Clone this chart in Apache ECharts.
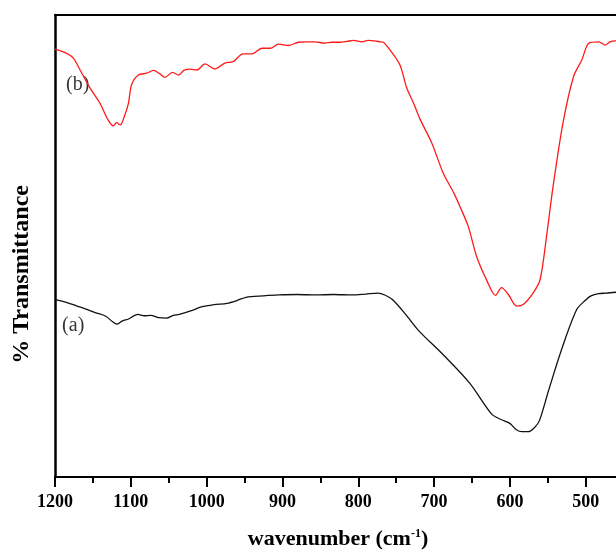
<!DOCTYPE html>
<html><head><meta charset="utf-8">
<script src="https://cdn.jsdelivr.net/npm/echarts@6/dist/echarts.min.js"></script>
<style>html,body{margin:0;padding:0;background:#fff;overflow:hidden}#c{width:616px;height:552px}</style>
</head><body><div id="c"></div>
<script>
// wavenumber (cm-1), transmittance (arbitrary units)
const wnB = [1200,1186,1176,1165,1153,1141,1130,1123,1119,1114,1108,1103,1099,1090,1079,1070,1062,1055,1045,1037,1030,1022,1013,1002,989,976,965,952,940,927,916,905,892,879,868,857,844,835,824,815,806,795,787,779,771,767,758,745,736,727,718,703,688,674,666,655,644,630,619,611,602,591,582,569,560,551,543,530,516,505,496,483,474,468,459];
const tB  = [92.6,91.8,90.7,87.5,84.0,81.0,77.3,76.0,76.7,76.2,78.3,81.0,84.9,87.0,87.4,88.0,87.3,86.5,87.6,87.0,88.0,88.3,88.1,89.4,88.3,89.6,89.9,91.6,91.6,92.8,92.8,93.7,93.4,94.1,94.2,94.2,93.9,94.1,94.1,94.3,94.5,94.2,94.5,94.4,94.2,94.1,92.4,89.2,84.2,80.9,77.3,72.3,65.8,61.5,58.6,54.3,47.8,42.4,39.3,41.0,39.5,37.0,37.4,39.9,42.8,52.9,62.9,76.6,86.7,90.3,93.9,94.2,93.5,94.2,94.4];
const wnA = [1200,1185,1171,1160,1147,1133,1124,1118,1111,1103,1091,1082,1074,1063,1053,1044,1036,1020,1007,990,973,960,948,925,905,880,856,832,808,790,774,765,755,738,721,687,653,624,611,600,592,584,576,568,561,549,532,512,500,493,483,473,459];
const tA  = [38.4,37.8,37.0,36.4,35.6,34.8,33.6,33.1,33.8,34.2,35.2,34.9,35.0,34.5,34.4,35.0,35.2,36.0,36.8,37.3,37.6,38.2,38.9,39.2,39.4,39.5,39.4,39.5,39.4,39.6,39.8,39.4,38.4,35.3,31.8,26.3,20.3,13.6,12.4,11.6,10.3,9.8,9.8,10.6,12.2,18.7,27.5,36.2,38.3,39.2,39.7,39.8,40.0];
const xTicks = [1200,1100,1000,900,800,700,600,500];
const curveLabels = [{text:'(b)', wn:1170, t:85.0},{text:'(a)', wn:1176, t:32.8}];

const font = 'Liberation Serif, Times New Roman, serif';
const chart = echarts.init(document.getElementById('c'));
chart.setOption({
  animation:false,
  grid:{left:55, right:-45.5, top:15, bottom:75, outerBoundsMode:'none', containLabel:false},
  xAxis:[{
    type:'value', inverse:true, min:400, max:1200, interval:100,
    axisLine:{lineStyle:{color:'#000', width:2}},
    axisTick:{inside:false, length:10, lineStyle:{color:'#000', width:2}},
    minorTick:{show:true, splitNumber:2, length:6, lineStyle:{color:'#000', width:2}},
    splitLine:{show:false},
    axisLabel:{margin:16, color:'#000', fontFamily:font, fontWeight:'bold', fontSize:18,
      formatter:v=> xTicks.includes(v)? String(v) : ''}
  },{
    type:'value', position:'top', inverse:true, min:400, max:1200,
    axisLine:{show:true, lineStyle:{color:'#000', width:2}},
    axisTick:{show:false}, axisLabel:{show:false}, splitLine:{show:false}
  }],
  yAxis:{type:'value', min:0, max:100,
    axisLine:{show:true, lineStyle:{color:'#000', width:2.5}},
    axisTick:{show:false}, axisLabel:{show:false}, splitLine:{show:false}},
  series:[
    {type:'line', data:wnB.map((w,i)=>[w,tB[i]]), showSymbol:false, smooth:0.3,
     lineStyle:{color:'#ff1a1a', width:1.3}, itemStyle:{color:'#ff1a1a'}},
    {type:'line', data:wnA.map((w,i)=>[w,tA[i]]), showSymbol:false, smooth:0.3,
     lineStyle:{color:'#111', width:1.3}, itemStyle:{color:'#111'}},
    {type:'scatter', data:curveLabels.map(l=>({value:[l.wn,l.t], name:l.text})), symbolSize:0,
     label:{show:true, position:'inside', formatter:p=>p.name, color:'#000', textBorderWidth:0,
            fontFamily:font, fontSize:20}}
  ],
  graphic:[
    {type:'text', left:10, top:185, rotation:Math.PI/2,
     style:{text:'% Transmittance', fontFamily:font, fontWeight:'bold', fontSize:24, fill:'#000'}},
    {type:'text', x:338, y:528,
     style:{text:'{n|wavenumber (cm}{s|-1}{n|)}', align:'center', verticalAlign:'top',
       rich:{n:{fontFamily:font,fontWeight:'bold',fontSize:22,fill:'#000'},
             s:{fontFamily:font,fontWeight:'bold',fontSize:12,fill:'#000',verticalAlign:'top',padding:[0,0,10,0]}}}}
  ]
});
</script></body></html>
